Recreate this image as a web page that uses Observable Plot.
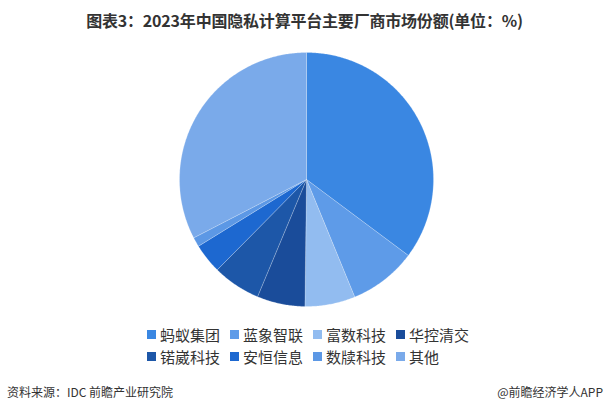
<!DOCTYPE html>
<html><head><meta charset="utf-8">
<script src="https://cdn.jsdelivr.net/npm/d3@7"></script>
<script src="https://cdn.jsdelivr.net/npm/@observablehq/plot@0.6"></script>
<style>
body{margin:0;background:#fff;width:609px;height:418px;overflow:hidden;font-family:"Noto Sans CJK SC","Noto Sans",sans-serif;}
#title{height:40px;line-height:40px;text-align:center;font-weight:bold;font-size:16px;color:#333;letter-spacing:-0.2px;}
#chart{height:280px;}
#legend{margin-left:147px;width:340px;display:flex;flex-wrap:wrap;margin-top:3px;}
.item{width:83px;height:22px;display:flex;align-items:center;font-size:15px;color:#333;}
.sw{width:9px;height:9px;margin-right:4px;flex:none;}
#footer{position:absolute;top:383px;left:0;width:609px;font-size:12px;color:#333;}
#footer .l{position:absolute;left:7px;}
#footer .r{position:absolute;right:6px;}
</style></head>
<body>
<div id="title">图表3：2023年中国隐私计算平台主要厂商市场份额(单位：%)</div>
<div id="chart"></div>
<div id="legend"></div>
<div id="footer"><span class="l">资料来源：IDC 前瞻产业研究院</span><span class="r">@前瞻经济学人APP</span></div>
<script>
const categories = ["蚂蚁集团","蓝象智联","富数科技","华控清交","锘崴科技","安恒信息","数牍科技","其他"];
const shares = [35.2, 8.6, 6.4, 6.1, 6.1, 3.8, 1.2, 32.6];
const colors = ["#3a87e2","#5e9be8","#92bcf0","#1a4c9a","#1d57a8","#1d68d0","#5c98e5","#7aaaea"];

const pie = d3.pie().sort(null).value(d => d.share)(categories.map((c,i)=>({cat:c, share:shares[i]})));
const pts = [];
for (const a of pie) {
  const n = Math.max(2, Math.ceil((a.endAngle - a.startAngle) / 0.01));
  pts.push({cat:a.data.cat, x:0, y:0});
  for (let k = 0; k <= n; k++) {
    const t = a.startAngle + (a.endAngle - a.startAngle) * k / n;
    pts.push({cat:a.data.cat, x:Math.sin(t), y:Math.cos(t)});
  }
  pts.push({cat:a.data.cat, x:0, y:0});
}

const plot = Plot.plot({
  width:609, height:280,
  marginLeft:179, marginRight:176, marginTop:12, marginBottom:14,
  x:{domain:[-1,1], axis:null},
  y:{domain:[-1,1], axis:null},
  color:{domain:categories, range:colors},
  marks:[
    Plot.line(pts, {x:"x", y:"y", z:"cat", fill:"cat", stroke:"#ffffff", strokeOpacity:0.35, strokeWidth:0.6, curve:"linear"})
  ]
});
document.getElementById("chart").append(plot);

const leg = document.getElementById("legend");
categories.forEach((c,i)=>{
  const it = document.createElement("div"); it.className="item";
  it.innerHTML = `<span class="sw" style="background:${colors[i]}"></span><span>${c}</span>`;
  leg.append(it);
});
</script>
</body></html>
